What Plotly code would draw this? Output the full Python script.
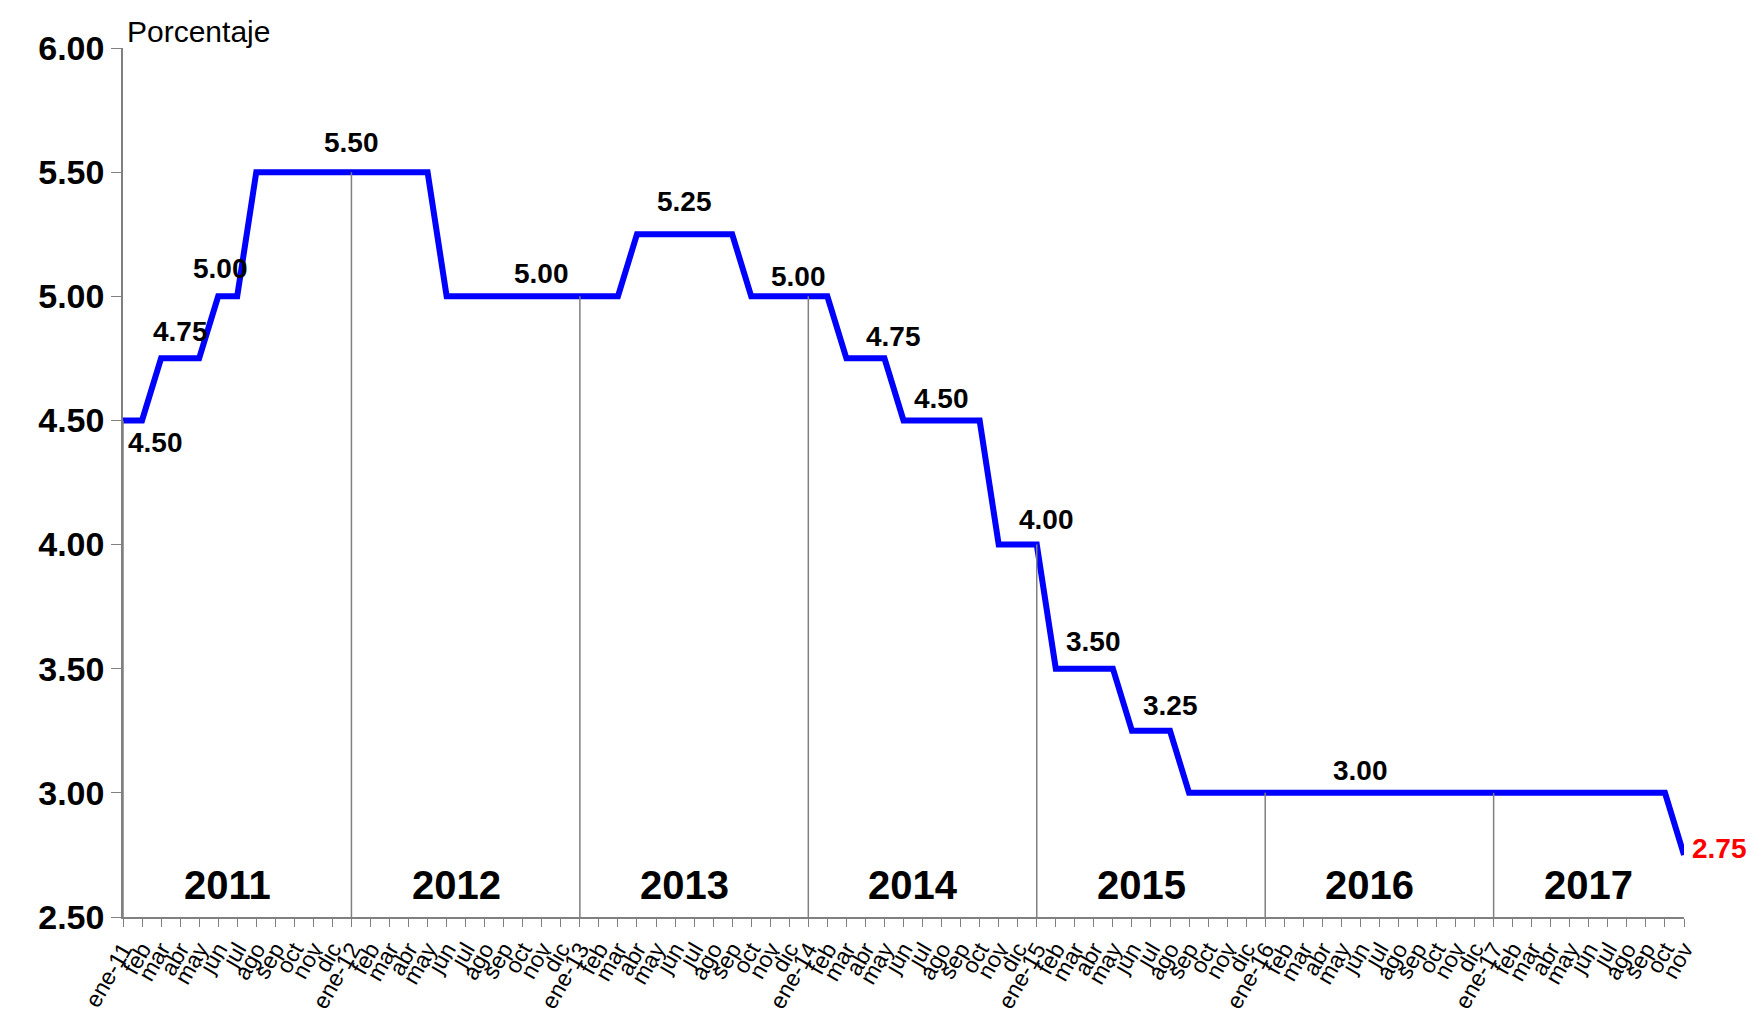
import plotly.graph_objects as go

# monthly rate ene-11 .. nov-17
meses = ['ene', 'feb', 'mar', 'abr', 'may', 'jun', 'jul', 'ago', 'sep', 'oct', 'nov', 'dic']
anios = ['2011', '2012', '2013', '2014', '2015', '2016', '2017']
tasa = ([4.50, 4.50, 4.75, 4.75, 4.75, 5.00, 5.00, 5.50, 5.50, 5.50, 5.50, 5.50]   # 2011
        + [5.50] * 5 + [5.00] * 7                                                   # 2012
        + [5.00] * 3 + [5.25] * 6 + [5.00] * 3                                      # 2013
        + [5.00] * 2 + [4.75] * 3 + [4.50] * 5 + [4.00] * 2                         # 2014
        + [4.00] + [3.50] * 4 + [3.25] * 3 + [3.00] * 4                             # 2015
        + [3.00] * 12                                                               # 2016
        + [3.00] * 10 + [2.75])                                                     # 2017

ticktext = []
for a in anios:
    for i, m in enumerate(meses):
        ticktext.append(f"{m}-{a[2:]}" if i == 0 else m)
ticktext = ticktext[:len(tasa)]
x = list(range(len(tasa)))

# value labels: (month index, label y, text)
etiquetas = [(1.7, 4.41, '4.50'), (3.0, 4.86, '4.75'), (5.1, 5.11, '5.00'),
             (12.0, 5.62, '5.50'), (22.0, 5.09, '5.00'), (29.5, 5.38, '5.25'),
             (35.5, 5.08, '5.00'), (40.5, 4.84, '4.75'), (43.0, 4.59, '4.50'),
             (48.5, 4.10, '4.00'), (51.0, 3.61, '3.50'), (55.0, 3.35, '3.25'),
             (65.0, 3.09, '3.00')]
pos_anio = [5.5, 17.5, 29.5, 41.5, 53.5, 65.5, 77.0]

fig = go.Figure()

# year separators
for k in range(len(anios)):
    i = 12 * k
    fig.add_shape(type='line', x0=i, x1=i, y0=2.5, y1=tasa[i],
                  line=dict(color='#808080', width=1.5))

fig.add_trace(go.Scatter(x=x, y=tasa, mode='lines',
                         line=dict(color='#0000FF', width=6), hoverinfo='y'))

for xi, yi, t in etiquetas:
    fig.add_annotation(x=xi, y=yi, text=f"<b>{t}</b>", showarrow=False,
                       font=dict(size=28, color='black'))
fig.add_annotation(x=x[-1], y=tasa[-1], text='<b>2.75</b>', showarrow=False,
                   xanchor='left', xshift=6, yshift=6, font=dict(size=28, color='red'))
for xi, a in zip(pos_anio, anios):
    fig.add_annotation(x=xi, y=2.63, text=f"<b>{a}</b>", showarrow=False,
                       font=dict(size=40, color='black'))
fig.add_annotation(x=0, y=6.0, xref='x', yref='y', text='Porcentaje', showarrow=False,
                   xanchor='left', yanchor='bottom', xshift=2, yshift=-2,
                   font=dict(size=30, color='black'))

fig.update_layout(
    width=1758, height=1017,
    margin=dict(l=115, r=82, t=40, b=101),
    paper_bgcolor='white', plot_bgcolor='white',
    showlegend=False,
    font=dict(family='Liberation Sans, Arial', color='black'),
    xaxis=dict(range=[0, len(tasa) - 1], tickvals=x, ticktext=ticktext,
               tickangle=-60, tickfont=dict(size=23), ticks='outside', ticklen=8,
               tickcolor='#808080', showline=True, linecolor='#808080', linewidth=1.5,
               showgrid=False, zeroline=False),
    yaxis=dict(range=[2.5, 6.0], dtick=0.5, tickformat='.2f',
               tickfont=dict(size=34, family='Liberation Sans, Arial'),
               ticks='outside', ticklen=10, tickcolor='#808080',
               showline=True, linecolor='#808080', linewidth=1.5,
               showgrid=False, zeroline=False),
)
fig.for_each_yaxis(lambda a: a.update(tickprefix='<b>', ticksuffix='</b>'))

fig.write_html("out.html")
